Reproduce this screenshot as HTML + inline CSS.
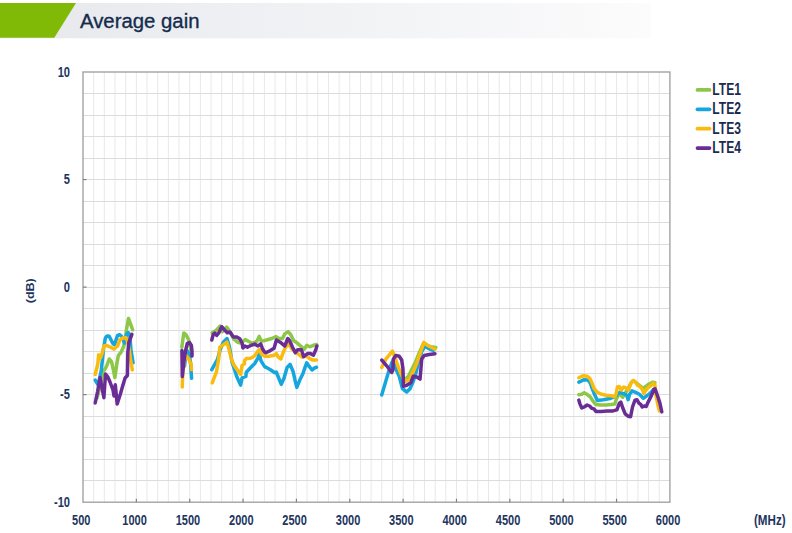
<!DOCTYPE html>
<html><head><meta charset="utf-8"><style>
html,body{margin:0;padding:0;background:#fff;}
body{width:792px;height:533px;overflow:hidden;position:relative;}
svg{position:absolute;left:0;top:0;display:block;}
text{font-family:"Liberation Sans",sans-serif;}
</style></head><body>
<svg width="792" height="533" viewBox="0 0 792 533">
<defs><linearGradient id="hg" x1="0" y1="0" x2="1" y2="0">
<stop offset="0" stop-color="#e6e8ec"/><stop offset="0.11" stop-color="#e8eaee"/><stop offset="0.34" stop-color="#eeeff2"/><stop offset="0.61" stop-color="#f3f4f6"/><stop offset="0.92" stop-color="#fafafb"/><stop offset="1" stop-color="#fcfcfc"/></linearGradient></defs>
<rect x="0" y="3" width="651" height="35.3" fill="url(#hg)"/>
<polygon points="0,3 76,3 54.3,37.8 0,37.8" fill="#81ba06"/>
<text x="80" y="27.7" font-size="20.5" fill="#142c4c" stroke="#142c4c" stroke-width="0.35" textLength="119.5" lengthAdjust="spacingAndGlyphs">Average gain</text>
<g stroke="#e8e8e8" stroke-width="1" fill="none">
<line x1="93.67" y1="72.0" x2="93.67" y2="502.2"/><line x1="104.34" y1="72.0" x2="104.34" y2="502.2"/><line x1="115.01" y1="72.0" x2="115.01" y2="502.2"/><line x1="125.68" y1="72.0" x2="125.68" y2="502.2"/><line x1="136.35" y1="72.0" x2="136.35" y2="502.2"/><line x1="147.03" y1="72.0" x2="147.03" y2="502.2"/><line x1="157.70" y1="72.0" x2="157.70" y2="502.2"/><line x1="168.37" y1="72.0" x2="168.37" y2="502.2"/><line x1="179.04" y1="72.0" x2="179.04" y2="502.2"/><line x1="189.71" y1="72.0" x2="189.71" y2="502.2"/><line x1="200.38" y1="72.0" x2="200.38" y2="502.2"/><line x1="211.05" y1="72.0" x2="211.05" y2="502.2"/><line x1="221.72" y1="72.0" x2="221.72" y2="502.2"/><line x1="232.39" y1="72.0" x2="232.39" y2="502.2"/><line x1="243.06" y1="72.0" x2="243.06" y2="502.2"/><line x1="253.73" y1="72.0" x2="253.73" y2="502.2"/><line x1="264.41" y1="72.0" x2="264.41" y2="502.2"/><line x1="275.08" y1="72.0" x2="275.08" y2="502.2"/><line x1="285.75" y1="72.0" x2="285.75" y2="502.2"/><line x1="296.42" y1="72.0" x2="296.42" y2="502.2"/><line x1="307.09" y1="72.0" x2="307.09" y2="502.2"/><line x1="317.76" y1="72.0" x2="317.76" y2="502.2"/><line x1="328.43" y1="72.0" x2="328.43" y2="502.2"/><line x1="339.10" y1="72.0" x2="339.10" y2="502.2"/><line x1="349.77" y1="72.0" x2="349.77" y2="502.2"/><line x1="360.44" y1="72.0" x2="360.44" y2="502.2"/><line x1="371.11" y1="72.0" x2="371.11" y2="502.2"/><line x1="381.79" y1="72.0" x2="381.79" y2="502.2"/><line x1="392.46" y1="72.0" x2="392.46" y2="502.2"/><line x1="403.13" y1="72.0" x2="403.13" y2="502.2"/><line x1="413.80" y1="72.0" x2="413.80" y2="502.2"/><line x1="424.47" y1="72.0" x2="424.47" y2="502.2"/><line x1="435.14" y1="72.0" x2="435.14" y2="502.2"/><line x1="445.81" y1="72.0" x2="445.81" y2="502.2"/><line x1="456.48" y1="72.0" x2="456.48" y2="502.2"/><line x1="467.15" y1="72.0" x2="467.15" y2="502.2"/><line x1="477.82" y1="72.0" x2="477.82" y2="502.2"/><line x1="488.49" y1="72.0" x2="488.49" y2="502.2"/><line x1="499.17" y1="72.0" x2="499.17" y2="502.2"/><line x1="509.84" y1="72.0" x2="509.84" y2="502.2"/><line x1="520.51" y1="72.0" x2="520.51" y2="502.2"/><line x1="531.18" y1="72.0" x2="531.18" y2="502.2"/><line x1="541.85" y1="72.0" x2="541.85" y2="502.2"/><line x1="552.52" y1="72.0" x2="552.52" y2="502.2"/><line x1="563.19" y1="72.0" x2="563.19" y2="502.2"/><line x1="573.86" y1="72.0" x2="573.86" y2="502.2"/><line x1="584.53" y1="72.0" x2="584.53" y2="502.2"/><line x1="595.20" y1="72.0" x2="595.20" y2="502.2"/><line x1="605.87" y1="72.0" x2="605.87" y2="502.2"/><line x1="616.55" y1="72.0" x2="616.55" y2="502.2"/><line x1="627.22" y1="72.0" x2="627.22" y2="502.2"/><line x1="637.89" y1="72.0" x2="637.89" y2="502.2"/><line x1="648.56" y1="72.0" x2="648.56" y2="502.2"/><line x1="659.23" y1="72.0" x2="659.23" y2="502.2"/>
</g>
<g stroke="#dcdcdc" stroke-width="1" fill="none">
<line x1="83.0" y1="480.50" x2="669.9" y2="480.50"/><line x1="83.0" y1="459.50" x2="669.9" y2="459.50"/><line x1="83.0" y1="437.50" x2="669.9" y2="437.50"/><line x1="83.0" y1="416.50" x2="669.9" y2="416.50"/><line x1="83.0" y1="394.50" x2="669.9" y2="394.50"/><line x1="83.0" y1="373.50" x2="669.9" y2="373.50"/><line x1="83.0" y1="351.50" x2="669.9" y2="351.50"/><line x1="83.0" y1="330.50" x2="669.9" y2="330.50"/><line x1="83.0" y1="308.50" x2="669.9" y2="308.50"/><line x1="83.0" y1="287.50" x2="669.9" y2="287.50"/><line x1="83.0" y1="265.50" x2="669.9" y2="265.50"/><line x1="83.0" y1="244.50" x2="669.9" y2="244.50"/><line x1="83.0" y1="222.50" x2="669.9" y2="222.50"/><line x1="83.0" y1="201.50" x2="669.9" y2="201.50"/><line x1="83.0" y1="179.50" x2="669.9" y2="179.50"/><line x1="83.0" y1="158.50" x2="669.9" y2="158.50"/><line x1="83.0" y1="136.50" x2="669.9" y2="136.50"/><line x1="83.0" y1="115.50" x2="669.9" y2="115.50"/><line x1="83.0" y1="93.50" x2="669.9" y2="93.50"/>
</g>
<rect x="83.0" y="72.0" width="586.90" height="430.20" fill="none" stroke="#a3a3a3" stroke-width="1.4"/>
<g stroke="#7f7f7f" stroke-width="1.2"><line x1="136.35" y1="502.2" x2="136.35" y2="498.7"/><line x1="189.71" y1="502.2" x2="189.71" y2="498.7"/><line x1="243.06" y1="502.2" x2="243.06" y2="498.7"/><line x1="296.42" y1="502.2" x2="296.42" y2="498.7"/><line x1="349.77" y1="502.2" x2="349.77" y2="498.7"/><line x1="403.13" y1="502.2" x2="403.13" y2="498.7"/><line x1="456.48" y1="502.2" x2="456.48" y2="498.7"/><line x1="509.84" y1="502.2" x2="509.84" y2="498.7"/><line x1="563.19" y1="502.2" x2="563.19" y2="498.7"/><line x1="616.55" y1="502.2" x2="616.55" y2="498.7"/><line x1="83.0" y1="179.55" x2="86.5" y2="179.55"/><line x1="83.0" y1="287.10" x2="86.5" y2="287.10"/><line x1="83.0" y1="394.65" x2="86.5" y2="394.65"/></g>
<g fill="none" stroke-width="3.5" stroke-linejoin="round" stroke-linecap="round">
<path d="M97.0,398.0 L100.5,385.0 L103.0,372.0 L105.4,368.5 L106.9,365.5 L109.2,359.0 L111.5,361.7 L113.4,370.0 L114.9,377.6 L116.8,363.9 L118.3,355.6 L121.3,351.8 L123.6,346.5 L125.9,337.0 L126.2,331.0 L128.5,318.4 L132.7,329.8" stroke="#8dc747"/><path d="M181.8,347.3 L183.8,332.9 L186.1,334.8 L188.7,340.1 L190.5,348.0 L191.5,356.0" stroke="#8dc747"/><path d="M212.2,332.8 L216.4,330.1 L220.2,326.0 L222.4,331.6 L226.6,327.1 L229.2,330.5 L233.8,339.2 L237.6,342.2 L240.6,343.0 L245.2,339.6 L248.9,341.5 L252.0,343.3 L255.0,342.5 L257.0,341.0 L259.2,336.4 L261.3,341.0 L263.7,340.7 L266.5,340.0 L271.8,338.5 L276.0,336.6 L278.7,338.5 L282.5,338.5 L284.7,333.9 L288.1,331.6 L290.8,334.7 L293.8,340.7 L296.1,342.2 L298.4,344.1 L302.2,347.5 L304.4,349.1 L306.7,345.3 L309.7,346.8 L313.5,345.3 L316.5,344.5" stroke="#8dc747"/><path d="M404.5,380.0 L408.4,376.3 L412.0,369.1 L415.5,362.0 L419.6,352.0 L423.0,344.5 L428.3,345.8 L432.5,347.1 L435.8,347.5" stroke="#8dc747"/><path d="M578.8,394.8 L581.8,394.3 L584.2,392.8 L587.6,394.8 L590.5,397.2 L593.0,401.1 L595.9,404.5 L600.3,405.0 L606.1,405.0 L611.0,404.5 L614.9,404.0 L616.0,400.1 L618.4,394.3 L620.8,395.3 L622.8,397.2 L626.0,392.0 L629.0,387.0 L631.6,382.1 L633.5,380.6 L638.4,384.5 L643.3,388.4 L648.1,384.5 L653.0,382.1 L655.0,382.6" stroke="#8dc747"/><path d="M95.2,380.0 L98.2,385.0 L101.3,370.0 L102.4,360.0 L103.5,349.0 L105.4,337.8 L107.0,336.0 L109.2,336.2 L110.7,339.3 L113.0,343.8 L114.5,344.6 L117.5,335.5 L119.8,334.7 L122.1,337.0 L124.4,343.0 L126.6,334.0 L128.2,332.5 L129.7,334.7 L131.0,350.0 L133.1,362.8" stroke="#15a6de"/><path d="M184.5,366.0 L186.0,354.0 L187.5,351.0 L189.0,354.0 L190.5,362.0 L191.0,370.5 L191.6,378.3" stroke="#15a6de"/><path d="M211.8,369.6 L217.5,359.4 L220.2,349.5 L223.5,342.0 L227.0,338.5 L229.5,347.0 L232.0,362.0 L236.8,376.8 L240.6,385.1 L242.1,377.9 L245.9,376.4 L246.3,372.2 L250.5,367.7 L255.0,363.2 L258.0,357.8 L259.2,353.3 L261.0,360.9 L264.8,366.9 L266.5,367.5 L270.0,369.5 L274.9,372.8 L276.3,372.0 L278.7,378.0 L281.3,384.4 L284.0,378.3 L287.0,367.7 L290.0,364.3 L293.1,371.5 L295.3,381.3 L296.8,387.4 L299.9,379.8 L302.9,373.8 L305.2,366.9 L306.7,362.8 L309.0,366.2 L312.0,370.0 L315.0,367.7 L316.5,367.3" stroke="#15a6de"/><path d="M381.7,394.9 L388.3,372.8 L391.7,362.8 L393.5,360.5 L395.0,367.0 L399.2,376.2 L402.5,388.7 L406.7,392.0 L410.0,388.7 L413.3,381.2 L416.7,370.3 L418.3,362.5 L421.7,351.7 L425.0,346.2 L429.2,348.8 L433.3,350.4" stroke="#15a6de"/><path d="M578.8,382.1 L581.3,381.1 L583.7,379.7 L588.1,380.1 L590.5,383.6 L592.5,389.4 L594.9,395.3 L597.4,400.6 L601.3,400.1 L606.1,399.2 L611.0,398.2 L614.9,396.7 L619.9,392.3 L623.8,393.8 L626.7,395.3 L628.1,399.7 L629.6,394.3 L632.0,390.9 L635.5,392.3 L639.4,394.3 L643.3,398.2 L646.2,396.2 L650.1,393.3 L653.5,389.4" stroke="#15a6de"/><path d="M95.2,374.5 L97.8,364.0 L98.6,354.8 L100.5,358.0 L102.4,352.6 L103.9,346.0 L106.2,345.3 L110.0,346.8 L113.8,349.1 L117.5,346.0 L119.8,340.0 L122.8,338.1 L125.9,337.8 L127.4,340.8 L128.9,347.3 L130.4,358.6 L132.3,370.0" stroke="#f9bb0e"/><path d="M182.3,387.0 L182.6,376.0 L184.0,362.0 L185.9,355.4 L188.9,359.3 L191.1,364.5 L191.5,369.6" stroke="#f9bb0e"/><path d="M212.2,382.8 L216.4,372.2 L218.6,359.4 L219.8,347.2 L223.2,344.9 L227.0,342.2 L229.2,350.0 L231.5,359.4 L233.8,364.7 L236.8,369.2 L240.6,374.5 L242.1,365.4 L244.4,363.9 L244.4,360.9 L246.3,358.6 L250.5,358.2 L254.2,356.3 L258.0,351.0 L259.5,349.5 L261.4,354.1 L264.8,356.3 L268.8,356.3 L273.4,355.6 L276.4,353.7 L278.3,357.1 L280.9,359.0 L283.2,352.5 L285.5,347.5 L288.5,343.8 L292.0,349.0 L296.0,352.0 L298.4,354.1 L302.2,357.1 L305.9,355.6 L309.7,358.6 L312.8,360.1 L316.5,360.1" stroke="#f9bb0e"/><path d="M381.7,367.5 L385.8,359.2 L392.5,351.2 L394.2,355.0 L396.7,362.5 L400.0,371.7 L403.0,378.0 L405.5,381.5 L409.8,379.1 L413.4,371.3 L417.0,362.5 L421.0,351.0 L423.9,342.3 L428.3,345.8 L435.1,349.2" stroke="#f9bb0e"/><path d="M578.8,377.7 L581.8,376.2 L583.7,375.8 L587.1,376.2 L590.0,378.7 L592.0,383.1 L594.0,388.4 L597.4,392.3 L601.3,394.3 L606.1,395.3 L611.0,395.8 L614.9,396.7 L616.0,394.3 L617.4,387.0 L619.4,386.5 L621.3,389.9 L623.8,387.0 L626.2,388.0 L628.6,389.9 L630.6,383.6 L633.0,380.6 L635.5,382.1 L637.4,385.0 L639.9,386.5 L642.3,389.4 L643.8,393.3 L647.2,388.4 L651.1,385.5 L653.5,383.1 L655.0,385.5 L656.0,395.3 L657.9,405.0 L659.4,410.9" stroke="#f9bb0e"/><path d="M95.2,403.0 L97.5,392.0 L100.1,377.5 L102.0,388.0 L103.9,397.7 L105.5,374.0 L107.7,376.8 L110.0,382.0 L113.0,390.0 L114.0,396.0 L115.3,384.8 L117.2,404.0 L120.6,393.2 L122.8,385.6 L125.1,378.0 L127.4,375.5 L127.8,352.6 L128.9,342.3 L131.9,334.3" stroke="#6a2d96"/><path d="M181.9,350.5 L182.3,376.5 L183.8,362.0 L185.5,351.0 L187.3,343.5 L189.6,342.6 L191.4,345.5 L192.0,351.5 L192.0,356.0" stroke="#6a2d96"/><path d="M211.8,340.0 L213.3,334.3 L214.8,333.2 L216.7,335.4 L218.6,333.2 L221.7,326.7 L224.7,330.1 L227.3,332.8 L230.0,332.0 L233.4,337.0 L236.8,337.0 L239.8,338.8 L242.1,343.0 L242.9,347.9 L244.8,346.0 L247.4,347.2 L251.2,345.3 L254.6,344.1 L258.0,346.0 L260.7,343.8 L262.6,349.0 L264.5,352.0 L265.8,352.8 L270.3,350.6 L274.1,348.3 L276.4,340.0 L280.2,342.2 L284.7,346.0 L287.8,338.5 L289.7,340.7 L292.3,346.8 L295.3,352.8 L297.6,349.8 L301.4,349.8 L303.7,356.6 L307.5,353.6 L310.5,353.6 L313.5,355.1 L315.8,349.8 L316.9,346.0" stroke="#6a2d96"/><path d="M381.7,360.0 L386.7,365.8 L391.7,372.5 L392.9,370.0 L393.3,359.2 L395.8,355.4 L399.2,356.2 L401.7,360.0 L402.9,368.3 L403.3,379.0 L403.3,386.2 L406.7,385.3 L410.8,382.8 L413.3,376.2 L416.7,377.0 L420.0,379.1 L420.8,370.3 L421.7,359.2 L424.2,355.4 L429.2,354.6 L435.0,353.8" stroke="#6a2d96"/><path d="M578.8,400.1 L579.8,403.6 L581.8,408.0 L584.2,407.0 L587.1,405.0 L589.6,406.0 L592.0,408.4 L594.0,408.9 L595.9,411.4 L601.3,411.4 L607.1,410.9 L613.0,410.9 L616.9,409.9 L619.4,403.1 L620.8,402.1 L622.8,408.0 L625.2,413.8 L628.1,416.2 L630.6,416.7 L632.5,407.0 L635.0,400.1 L636.9,399.7 L638.9,403.1 L640.8,404.5 L642.3,407.0 L644.2,406.0 L646.2,406.5 L648.1,402.1 L651.1,396.2 L654.0,389.4 L655.0,388.9 L657.4,395.3 L659.9,403.1 L661.8,411.9" stroke="#6a2d96"/>
</g>
<g font-size="14.5" font-weight="bold" fill="#1d3560">
<text x="0" y="0" transform="translate(70,76.5) scale(0.735,1)" text-anchor="end" font-size="15.1">10</text><text x="0" y="0" transform="translate(70,184.1) scale(0.735,1)" text-anchor="end" font-size="15.1">5</text><text x="0" y="0" transform="translate(70,291.6) scale(0.735,1)" text-anchor="end" font-size="15.1">0</text><text x="0" y="0" transform="translate(70,399.1) scale(0.735,1)" text-anchor="end" font-size="15.1">-5</text><text x="0" y="0" transform="translate(70,506.7) scale(0.735,1)" text-anchor="end" font-size="15.1">-10</text>
<text x="0" y="0" transform="translate(81.2,525) scale(0.76,1)" text-anchor="middle">500</text><text x="0" y="0" transform="translate(134.6,525) scale(0.76,1)" text-anchor="middle">1000</text><text x="0" y="0" transform="translate(187.9,525) scale(0.76,1)" text-anchor="middle">1500</text><text x="0" y="0" transform="translate(241.3,525) scale(0.76,1)" text-anchor="middle">2000</text><text x="0" y="0" transform="translate(294.6,525) scale(0.76,1)" text-anchor="middle">2500</text><text x="0" y="0" transform="translate(348.0,525) scale(0.76,1)" text-anchor="middle">3000</text><text x="0" y="0" transform="translate(401.3,525) scale(0.76,1)" text-anchor="middle">3500</text><text x="0" y="0" transform="translate(454.7,525) scale(0.76,1)" text-anchor="middle">4000</text><text x="0" y="0" transform="translate(508.0,525) scale(0.76,1)" text-anchor="middle">4500</text><text x="0" y="0" transform="translate(561.4,525) scale(0.76,1)" text-anchor="middle">5000</text><text x="0" y="0" transform="translate(614.7,525) scale(0.76,1)" text-anchor="middle">5500</text><text x="0" y="0" transform="translate(668.1,525) scale(0.76,1)" text-anchor="middle">6000</text>
<text x="0" y="0" transform="translate(754,525) scale(0.8,1)">(MHz)</text>
<text x="0" y="0" transform="translate(34.0,290.75) rotate(-90)" text-anchor="middle" font-size="10.8" textLength="25" lengthAdjust="spacingAndGlyphs">(dB)</text>
</g>
<g font-size="17.2" font-weight="bold" fill="#1c2a52">
<line x1="697.5" y1="89.9" x2="709.5" y2="89.9" stroke="#8dc747" stroke-width="3.8" stroke-linecap="round"/><text x="0" y="0" transform="translate(712.3,94.9) scale(0.703,1)">LTE1</text><line x1="697.5" y1="109.3" x2="709.5" y2="109.3" stroke="#15a6de" stroke-width="3.8" stroke-linecap="round"/><text x="0" y="0" transform="translate(712.3,114.3) scale(0.703,1)">LTE2</text><line x1="697.5" y1="128.7" x2="709.5" y2="128.7" stroke="#f9bb0e" stroke-width="3.8" stroke-linecap="round"/><text x="0" y="0" transform="translate(712.3,133.7) scale(0.703,1)">LTE3</text><line x1="697.5" y1="148.1" x2="709.5" y2="148.1" stroke="#6a2d96" stroke-width="3.8" stroke-linecap="round"/><text x="0" y="0" transform="translate(712.3,153.1) scale(0.703,1)">LTE4</text>
</g>
</svg>
</body></html>
